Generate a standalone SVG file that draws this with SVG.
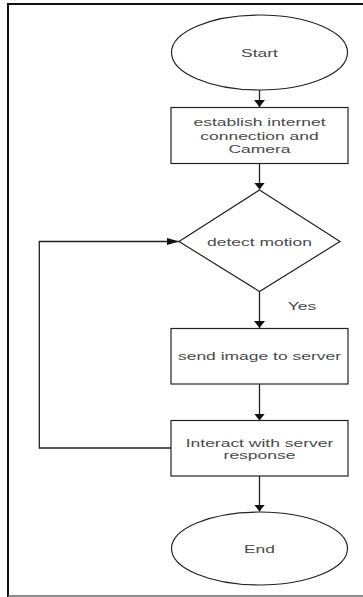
<svg xmlns="http://www.w3.org/2000/svg" width="363" height="597" viewBox="0 0 363 597">
<style>
.shape{fill:#fff;stroke:#222;stroke-width:1.2}
.line{fill:none;stroke:#222;stroke-width:1.3}
.frame{fill:none;stroke:#111;stroke-width:2}
.t{font-family:"Liberation Sans",Arial,sans-serif;font-size:11.5px;fill:#4a4a4a;text-anchor:middle}
</style>
<defs>
<marker id="ad" markerUnits="userSpaceOnUse" markerWidth="12" markerHeight="9" refX="5.5" refY="7" orient="0">
<path d="M0,0 L11,0 L5.5,7 Z" fill="#111"/>
</marker>
<marker id="ar" markerUnits="userSpaceOnUse" markerWidth="13" markerHeight="8" refX="12" refY="3.5" orient="0">
<path d="M0,0 L12,3.5 L0,7 Z" fill="#111"/>
</marker>
</defs>
<rect width="363" height="597" fill="#fff"/>
<g id="frame">
<path class="frame" d="M8,597 L8,4 L363,4"/>
<path d="M8,596 L363,596" stroke="#666" stroke-width="1.5" fill="none"/>
</g>
<g id="connectors">
<path class="line" d="M259.5,90 L259.5,107" marker-end="url(#ad)"/>
<path class="line" d="M259.5,164 L259.5,189.5" marker-end="url(#ad)"/>
<path class="line" d="M259.5,291.5 L259.5,328" marker-end="url(#ad)"/>
<path class="line" d="M259.5,384 L259.5,420.5" marker-end="url(#ad)"/>
<path class="line" d="M259.5,476 L259.5,511.5" marker-end="url(#ad)"/>
<path class="line" d="M171,448 L39.3,448 L39.3,241.5 L179,241.5" marker-end="url(#ar)"/>
<text class="t" transform="translate(302 310) scale(1.52 1)">Yes</text>
</g>
<g id="start">
<ellipse class="shape" cx="259.5" cy="52.5" rx="88" ry="37.5"/>
<text class="t" transform="translate(259.5 56.5) scale(1.52 1)">Start</text>
</g>
<g id="establish">
<rect class="shape" x="171" y="107.5" width="177" height="56"/>
<text class="t" transform="translate(259.5 126) scale(1.52 1)">establish internet</text>
<text class="t" transform="translate(259.5 139.5) scale(1.52 1)">connection and</text>
<text class="t" transform="translate(259.5 153) scale(1.52 1)">Camera</text>
</g>
<g id="detect">
<polygon class="shape" points="259.5,190 340,241.5 259.5,291.5 179,241.5"/>
<text class="t" transform="translate(259.5 245.5) scale(1.52 1)">detect motion</text>
</g>
<g id="send">
<rect class="shape" x="171" y="328.5" width="177" height="55.5"/>
<text class="t" transform="translate(259.5 360) scale(1.52 1)">send image to server</text>
</g>
<g id="interact">
<rect class="shape" x="171" y="420.5" width="177" height="55.5"/>
<text class="t" transform="translate(259.5 446.5) scale(1.52 1)">Interact with server</text>
<text class="t" transform="translate(259.5 459) scale(1.52 1)">response</text>
</g>
<g id="end">
<ellipse class="shape" cx="259.5" cy="548.5" rx="88" ry="36.5"/>
<text class="t" transform="translate(259.5 552.5) scale(1.52 1)">End</text>
</g>
</svg>
